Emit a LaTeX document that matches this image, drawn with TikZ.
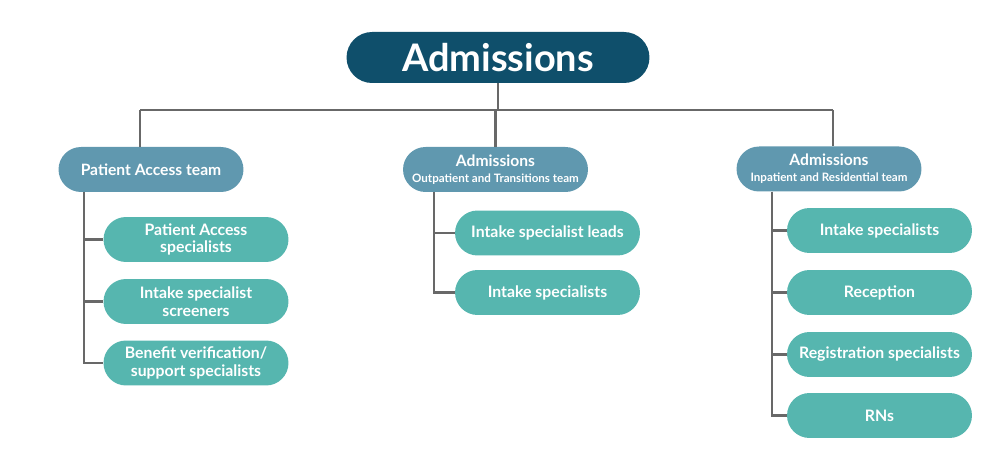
\documentclass[tikz,border=0pt]{standalone}
\usepackage{fontspec}
\setmainfont{Lato}
\usepackage{xcolor}
\usepackage{tikz}
\usetikzlibrary{positioning}
\definecolor{admdark}{RGB}{15,79,107}
\definecolor{teamblue}{RGB}{96,152,175}
\definecolor{roleteal}{RGB}{86,182,175}
\definecolor{linkgray}{RGB}{104,104,104}

\begin{document}
\begin{tikzpicture}[
  x=0.02cm, y=-0.02cm,
  head/.style={rectangle, rounded corners=0.51cm, fill=admdark, text=white,
               minimum width=6.06cm, minimum height=1.02cm,
               font=\fontsize{21.6}{24}\selectfont\bfseries},
  team/.style={rectangle, rounded corners=0.45cm, fill=teamblue, text=white,
               minimum width=3.7cm, minimum height=0.9cm, align=center,
               font=\fontsize{8.9}{10}\selectfont\bfseries, inner sep=1pt},
  role/.style={rectangle, rounded corners=0.45cm, fill=roleteal, text=white,
               minimum width=3.7cm, minimum height=0.9cm, align=center,
               font=\fontsize{9}{10}\selectfont\bfseries, inner sep=1pt},
  link/.style={draw=linkgray, line width=1.3pt}
]
\useasboundingbox (0,0) rectangle (1000,472);

% top
\node[head] (adm) at (498,57.5) {Admissions};

% teams
\node[team] (pat) at (151,169.5) {Patient Access team};
\node[team] (outp) at (495.5,169.5) {Admissions\\[-1pt]{\fontsize{6.6}{7}\selectfont Outpatient and Transitions team}};
\node[team] (inp) at (829,169) {Admissions\\[-1pt]{\fontsize{6.6}{7}\selectfont Inpatient and Residential team}};

% roles
\node[role] (pa1) at (196,239.5) {Patient Access\\specialists};
\node[role] (pa2) at (196,301.5) {Intake specialist\\screeners};
\node[role] (pa3) at (196,363) {Benefit verification/\\support specialists};

\node[role] (op1) at (547.5,233) {Intake specialist leads};
\node[role] (op2) at (547.5,292.5) {Intake specialists};

\node[role] (ip1) at (879.5,230.5) {Intake specialists};
\node[role] (ip2) at (879.5,292.5) {Reception};
\node[role] (ip3) at (879.5,354.5) {Registration specialists};
\node[role] (ip4) at (879.5,415.5) {RNs};

% bus
\coordinate (busL) at (140,110);
\coordinate (busR) at (833,110);
\draw[link] (busL) -- (busR);
\draw[link] (adm.south) -- (adm.south |- busL);
\draw[link] (busL) -- (busL |- pat.north);
\draw[link] (outp.north) -- (outp.north |- busL);
\draw[link] (busR) -- (busR |- inp.north);

% trunks
\coordinate (patT) at (84,192);
\coordinate (outpT) at (434,192);
\coordinate (inpT) at (772,192);
\foreach \r in {pa1,pa2,pa3}
  \draw[link] (patT) |- (\r.west);
\foreach \r in {op1,op2}
  \draw[link] (outpT) |- (\r.west);
\foreach \r in {ip1,ip2,ip3,ip4}
  \draw[link] (inpT) |- (\r.west);
\end{tikzpicture}
\end{document}
